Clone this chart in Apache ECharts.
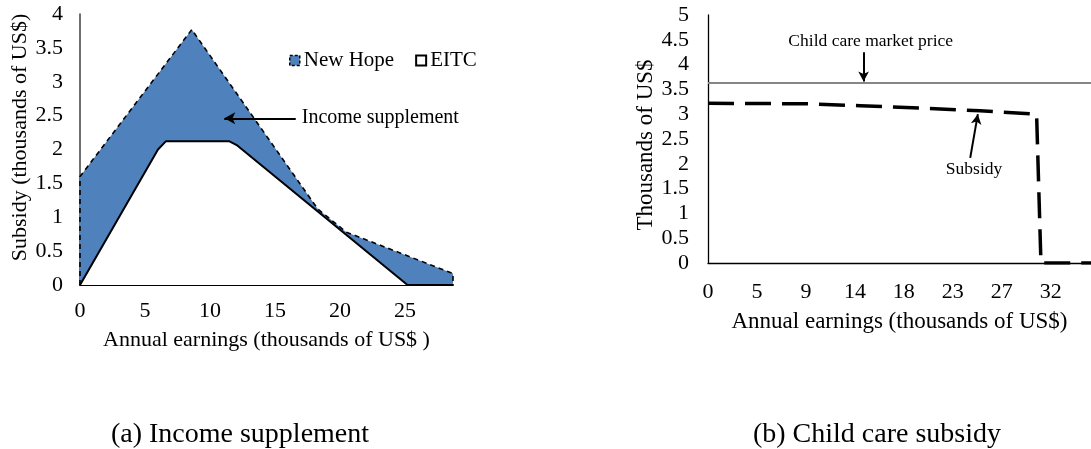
<!DOCTYPE html>
<html>
<head>
<meta charset="utf-8">
<script src="https://cdn.jsdelivr.net/npm/echarts@6/dist/echarts.min.js"></script>
<style>
  html, body { margin: 0; padding: 0; background: #fff; }
  #chart { width: 1091px; height: 449px; }
</style>
</head>
<body>
<div id="chart"></div>
<script>
// Panel (a): annual earnings (thousands of US$) vs. subsidy (thousands of US$)
const newHopeX = [0, 0, 8.6, 18.3, 20.5, 28.7, 28.7];
const newHopeY = [0, 1.6, 3.77, 1.12, 0.78, 0.17, 0];
const eitcX = [0, 6.0, 6.6, 11.5, 12.1, 25.2, 28.7];
const eitcY = [0, 2.0, 2.12, 2.12, 2.06, 0, 0];

// Panel (b): child care market price and subsidy (thousands of US$)
const priceX = [0, 35.2];
const priceY = [3.63, 3.63];
const subsidyX = [0, 9, 14, 20, 25, 30.2, 30.6, 35.2];
const subsidyY = [3.22, 3.21, 3.17, 3.12, 3.07, 3.0, 0, 0];

const leftTicksY = [0, 0.5, 1, 1.5, 2, 2.5, 3, 3.5, 4];
const rightTicksY = [0, 0.5, 1, 1.5, 2, 2.5, 3, 3.5, 4, 4.5, 5];

const pairs = (xs, ys) => xs.map((x, i) => [x, ys[i]]);

const FONT = '"Liberation Serif", "Times New Roman", serif';
const BLUE = '#4F81BD';

const chart = echarts.init(document.getElementById('chart'), null, { renderer: 'canvas' });

const arrow = (from, to) => [{ coord: from }, { coord: to }];
const note = (coord, text, align, size) => ({
  coord: coord,
  symbol: 'circle',
  symbolSize: 1,
  itemStyle: { color: 'rgba(0,0,0,0)' },
  label: {
    show: true, formatter: text, position: [0, 0],
    align: align, verticalAlign: 'middle',
    color: '#000', fontFamily: FONT, fontSize: size
  }
});

const option = {
  animation: false,
  backgroundColor: '#fff',
  title: [
    { text: '(a) Income supplement', left: 235, top: 416, textAlign: 'center',
      textStyle: { fontFamily: FONT, fontSize: 28, fontWeight: 'normal', color: '#000' } },
    { text: '(b) Child care subsidy', left: 872, top: 416, textAlign: 'center',
      textStyle: { fontFamily: FONT, fontSize: 28, fontWeight: 'normal', color: '#000' } }
  ],
  legend: {
    left: 284, top: 45,
    itemWidth: 10, itemHeight: 10, itemGap: 21,
    textStyle: { fontFamily: FONT, fontSize: 21, color: '#000', padding: [0, 0, 0, -1] },
    data: [
      { name: 'New Hope', icon: 'rect',
        itemStyle: { color: BLUE, borderColor: '#000', borderWidth: 1.5, borderType: [3, 2] } },
      { name: 'EITC', icon: 'rect',
        itemStyle: { color: '#fff', borderColor: '#000', borderWidth: 2 } }
    ]
  },
  grid: [
    { left: 80, top: 14, width: 373, height: 271 },
    { left: 708, top: 15, right: 0, height: 248 }
  ],
  xAxis: [
    {
      gridIndex: 0, type: 'value', min: 0, max: 28.7, interval: 5,
      name: 'Annual earnings (thousands of US$ )', nameLocation: 'middle', nameGap: 44,
      nameTextStyle: { fontFamily: FONT, fontSize: 22, color: '#000' },
      axisLine: { lineStyle: { color: '#000', width: 2 } },
      axisTick: { show: false }, splitLine: { show: false },
      axisLabel: { fontFamily: FONT, fontSize: 22, color: '#000', margin: 15,
        formatter: v => (v % 5 === 0 ? String(v) : ''), showMaxLabel: false }
    },
    {
      gridIndex: 1, type: 'value', min: 0, max: 35.2, interval: 4.5,
      name: 'Annual earnings (thousands of US$)', nameLocation: 'middle', nameGap: 47,
      nameTextStyle: { fontFamily: FONT, fontSize: 23, color: '#000', padding: [0, 0, 0, 0] },
      axisLine: { lineStyle: { color: '#000', width: 1.3 } },
      axisTick: { show: false }, splitLine: { show: false },
      axisLabel: { fontFamily: FONT, fontSize: 22, color: '#000', margin: 18,
        formatter: v => (v < 34 && Math.abs(v / 4.5 - Math.round(v / 4.5)) < 1e-6 ? String(Math.round(v)) : ''),
        showMaxLabel: false }
    }
  ],
  yAxis: [
    {
      gridIndex: 0, type: 'value', min: 0, max: 4, interval: 0.5,
      name: 'Subsidy (thousands of US$)', nameLocation: 'middle', nameGap: 48,
      nameTextStyle: { fontFamily: FONT, fontSize: 22, color: '#000', padding: [0, 0, 0, 24] },
      axisLine: { show: true, lineStyle: { color: '#404040', width: 1.5 } },
      axisTick: { show: false }, splitLine: { show: false },
      axisLabel: { fontFamily: FONT, fontSize: 22, color: '#000', margin: 17,
        formatter: v => (leftTicksY.includes(v) ? String(v) : '') }
    },
    {
      gridIndex: 1, type: 'value', min: 0, max: 5, interval: 0.5,
      name: 'Thousands of US$', nameLocation: 'middle', nameGap: 50,
      nameTextStyle: { fontFamily: FONT, fontSize: 23, color: '#000', padding: [0, 12, 0, 0] },
      axisLine: { show: true, lineStyle: { color: '#000', width: 1.3 } },
      axisTick: { show: false }, splitLine: { show: false },
      axisLabel: { fontFamily: FONT, fontSize: 22, color: '#000', margin: 19,
        formatter: v => (rightTicksY.includes(v) ? String(v) : '') }
    }
  ],
  series: [
    {
      name: 'New Hope', type: 'line', xAxisIndex: 0, yAxisIndex: 0, z: 2,
      data: pairs(newHopeX, newHopeY),
      symbol: 'none',
      lineStyle: { color: '#000', width: 1.6, type: [5, 4] },
      itemStyle: { color: BLUE },
      areaStyle: { color: BLUE, opacity: 1 }
    },
    {
      name: 'EITC', type: 'line', xAxisIndex: 0, yAxisIndex: 0, z: 3,
      data: pairs(eitcX, eitcY),
      symbol: 'none',
      lineStyle: { color: '#000', width: 2 },
      itemStyle: { color: '#fff' },
      areaStyle: { color: '#fff', opacity: 1 },
      markLine: {
        silent: true, symbol: ['none', 'arrow'], symbolSize: [9, 11],
        label: { show: false },
        lineStyle: { color: '#000', width: 2, type: 'solid' },
        data: [arrow([16.6, 2.46], [11.1, 2.46])]
      },
      markPoint: {
        silent: true,
        data: [note([17.1, 2.46], 'Income supplement', 'left', 20)]
      }
    },
    {
      name: 'Child care market price', type: 'line', xAxisIndex: 1, yAxisIndex: 1, z: 2,
      data: pairs(priceX, priceY),
      symbol: 'none',
      lineStyle: { color: '#868686', width: 2 },
      markLine: {
        silent: true, symbol: ['none', 'arrow'], symbolSize: [8, 10],
        label: { show: false },
        lineStyle: { color: '#000', width: 2, type: 'solid' },
        data: [arrow([14.3, 4.25], [14.3, 3.66]), arrow([24.1, 2.12], [24.8, 3.0])]
      },
      markPoint: {
        silent: true,
        data: [note([15.0, 4.46], 'Child care market price', 'center', 17.5),
               note([24.5, 1.88], 'Subsidy', 'center', 17.5)]
      }
    },
    {
      name: 'Subsidy', type: 'line', xAxisIndex: 1, yAxisIndex: 1, z: 3,
      data: pairs(subsidyX, subsidyY),
      symbol: 'none',
      lineStyle: { color: '#000', width: 3.5, type: [26, 11] }
    }
  ]
};

chart.setOption(option);
</script>
</body>
</html>
